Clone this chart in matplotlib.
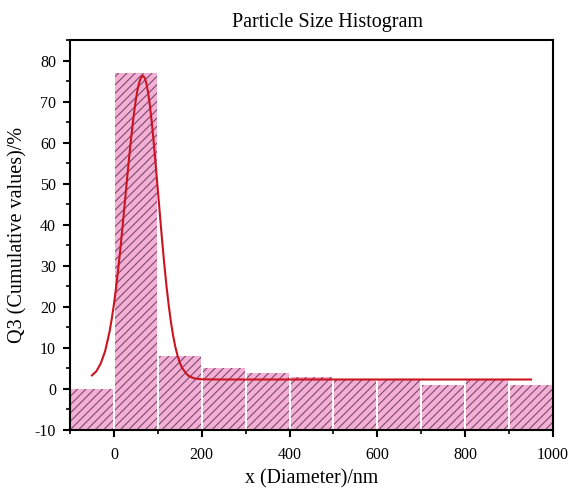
import matplotlib
matplotlib.use("Agg")
import matplotlib.pyplot as plt
from matplotlib.ticker import MultipleLocator

# ---- data ----
bin_left = [-100, 0, 100, 200, 300, 400, 500, 600, 700, 800, 900]
bin_values = [0, 77, 8, 5, 4, 3, 2.1, 2.1, 1.0, 2.1, 1.0]
fit_x = [-50, -40, -30, -20, -10, -5, 0, 5, 10, 15, 20, 25, 30, 35, 40, 45,
         50, 54, 58, 62, 66, 70, 74, 78, 82, 86, 90, 95, 100, 105, 110, 115,
         120, 125, 130, 135, 140, 145, 150, 155, 165, 170, 180, 185, 200, 250,
         400, 600, 800, 950]
fit_y = [3.3, 4.3, 6.2, 9.2, 13.9, 17.0, 20.6, 24.7, 29.4, 34.4, 39.9, 45.5,
         51.2, 56.7, 61.9, 66.6, 70.5, 73.0, 74.8, 75.9, 76.3, 75.8, 74.4,
         72.1, 69.0, 65.2, 60.8, 54.8, 48.5, 42.1, 35.9, 30.1, 24.8, 20.2,
         16.2, 12.9, 10.2, 8.1, 6.4, 5.2, 3.7, 3.2, 2.7, 2.53, 2.35, 2.3,
         2.3, 2.3, 2.3, 2.3]
title = "Particle Size Histogram"
xlabel = "x (Diameter)/nm"
ylabel = "Q3 (Cumulative values)/%"

plt.rcParams['font.family'] = ['Liberation Serif', 'DejaVu Serif']
plt.rcParams['hatch.linewidth'] = 0.8
plt.rcParams['axes.unicode_minus'] = False

fig = plt.figure(figsize=(5.71, 4.92), dpi=100)
ax = fig.add_axes([70 / 571, 1 - 430 / 492, (553 - 70) / 571, (430 - 40) / 492])

base = -10
width = 100
centers = [b + width / 2 for b in bin_left]
heights = [v - base for v in bin_values]

ax.bar(centers, heights, width=width * 0.955, bottom=base, facecolor='#f4b0d4',
       edgecolor='#7a4a6e', linewidth=0, hatch='////', zorder=2)

ax.plot(fit_x, fit_y, color='#cc1420', linewidth=1.5, zorder=4)

ax.set_xlim(-100, 1000)
ax.set_ylim(-10, 85)
ax.xaxis.set_major_locator(MultipleLocator(200))
ax.xaxis.set_minor_locator(MultipleLocator(100))
ax.yaxis.set_major_locator(MultipleLocator(10))
ax.yaxis.set_minor_locator(MultipleLocator(5))

for s in ax.spines.values():
    s.set_linewidth(1.5)
    s.set_zorder(5)

ax.tick_params(axis='both', which='major', direction='out', length=5, width=1.5,
               labelsize=11.5, top=False, right=False)
ax.tick_params(axis='both', which='minor', direction='out', length=3, width=1.2,
               top=False, right=False)
ax.tick_params(axis='x', which='major', pad=7)
ax.tick_params(axis='y', which='major', pad=5)

ax.set_xlabel(xlabel, fontsize=14.3, labelpad=5)
ax.set_ylabel(ylabel, fontsize=14.5, labelpad=5)
fig.text(327 / 571, 1 - 22 / 492, title, fontsize=14.5, ha='center', va='center')

fig.savefig("out.png", dpi=100)
